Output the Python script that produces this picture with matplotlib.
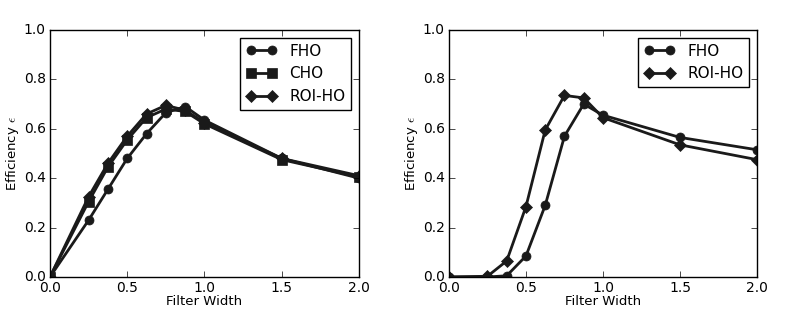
import numpy as np
import matplotlib
matplotlib.use('Agg')
import matplotlib.pyplot as plt

# Data
width = [0.0, 0.25, 0.375, 0.5, 0.625, 0.75, 0.875, 1.0, 1.5, 2.0]

# Left panel
fho_a = [0.0, 0.23, 0.355, 0.48, 0.58, 0.665, 0.69, 0.635, 0.48, 0.40]
cho_a = [0.0, 0.305, 0.445, 0.555, 0.645, 0.68, 0.67, 0.62, 0.475, 0.405]
roi_a = [0.0, 0.325, 0.46, 0.57, 0.66, 0.695, 0.675, 0.625, 0.48, 0.41]

# Right panel
fho_b = [0.0, 0.0, 0.005, 0.085, 0.29, 0.57, 0.70, 0.655, 0.565, 0.515]
roi_b = [0.0, 0.003, 0.065, 0.285, 0.595, 0.735, 0.725, 0.645, 0.535, 0.475]

xticks = [0.0, 0.5, 1.0, 1.5, 2.0]
yticks = [0.0, 0.2, 0.4, 0.6, 0.8, 1.0]

plt.style.use('classic')
plt.rcParams['font.family'] = 'DejaVu Sans'
plt.rcParams['font.size'] = 9.5

col = '#1a1a1a'
kw = dict(color=col, linewidth=2, markersize=6.5, markeredgecolor=col)

fig = plt.figure(figsize=(7.97, 3.09), dpi=100)
fig.patch.set_facecolor('white')
ax1 = fig.add_axes([0.0627, 0.1036, 0.3877, 0.7994])
ax2 = fig.add_axes([0.5633, 0.1036, 0.3865, 0.7994])

ax1.plot(width, fho_a, marker='o', label='FHO', **kw)
ax1.plot(width, cho_a, marker='s', label='CHO', **kw)
ax1.plot(width, roi_a, marker='D', label='ROI-HO', **kw)

ax2.plot(width, fho_b, marker='o', label='FHO', **kw)
ax2.plot(width, roi_b, marker='D', label='ROI-HO', **kw)

for ax in (ax1, ax2):
    ax.set_xlim(0, 2)
    ax.set_ylim(0, 1)
    ax.set_xticks(xticks)
    ax.set_yticks(yticks)
    ax.set_xlabel('Filter Width', fontsize=9.5, labelpad=0)
    ax.set_ylabel(r'Efficiency $\epsilon$', fontsize=9.5, labelpad=2)
    ax.tick_params(labelsize=10, pad=3)
    ax.set_facecolor('white')
    leg = ax.legend(loc='upper right', numpoints=2, fontsize=11, handlelength=2.0)
    leg.get_frame().set_linewidth(1)

fig.savefig('out.png', dpi=100, facecolor='white')
